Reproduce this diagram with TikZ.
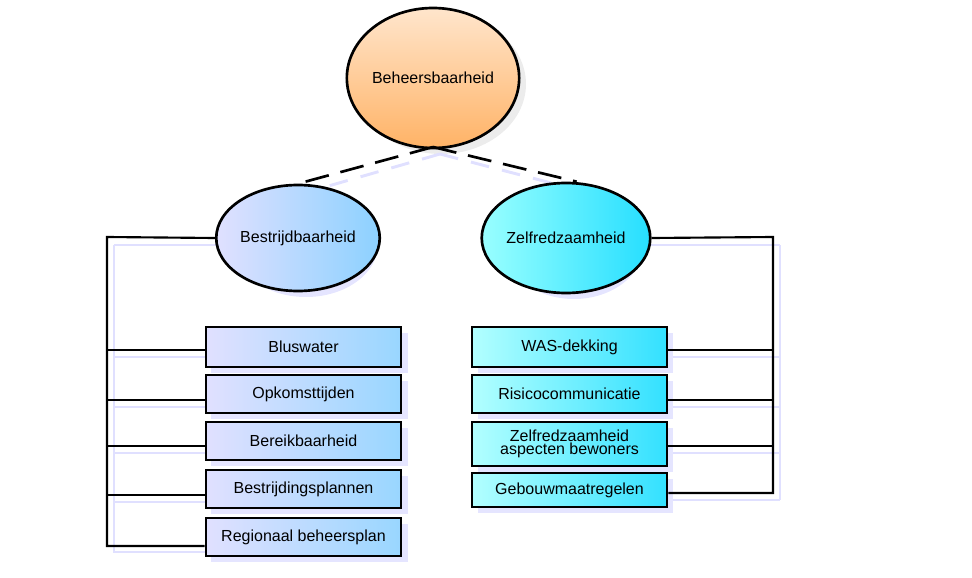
\documentclass[tikz,border=0pt]{standalone}
\usepackage{fontspec}
\setmainfont{Liberation Sans}
\usetikzlibrary{shapes.geometric}
\begin{document}
\begin{tikzpicture}[x=0.75pt,y=-0.75pt,
  line width=1.6pt,
  shad/.style={draw=blue!12,line width=2.2pt},
  circ/.style={ellipse,draw=black,line width=2pt,minimum width=#1,inner sep=0pt},
  lbox/.style={draw=black,line width=2pt,inner sep=0pt,font=\fontsize{12}{13}\selectfont,align=center},
  lb/.style={lbox,minimum width=146.25pt,left color=blue!12,right color=blue!40!cyan!40},
  rb/.style={lbox,minimum width=146.25pt,left color=cyan!30,right color=cyan!85!blue!80},
  tx/.style={font=\fontsize{12}{13}\selectfont}]
\useasboundingbox (0,0) rectangle (972,578);
% shadows
\draw[shad] (114,245) -- (114,552) -- (220,552);
\foreach \y in {357,407,453,502} \draw[shad] (114,\y) -- (210,\y);
\draw[shad] (114,245) -- (240,245);
\draw[shad] (780,245) -- (780,500);
\draw[shad] (645,245) -- (780,245);
\foreach \y in {357,407,453,500} \draw[shad] (670,\y) -- (780,\y);
\fill[blue!10] (306,244) ellipse (72 and 53);
\fill[blue!10] (574,244) ellipse (70 and 55);
\fill[gray!15] (441,84) ellipse (85 and 70);
\foreach \a/\b in {327/367,375/413,422/460,470/508,518/556} \fill[blue!10] (211,\a+6) rectangle (408,\b+6);
\foreach \a/\b in {327/367,375/413,422/466,473/507} \fill[blue!10] (478,\a+6) rectangle (673,\b+6);
\draw[shad,dash pattern=on 14pt off 10pt] (440,154) -- (318,189);
\draw[shad,dash pattern=on 14pt off 10pt] (440,154) -- (582,191);
% nodes
\node[circ=127.5pt,minimum height=105pt,top color=orange!20,bottom color=orange!60,tx] (top) at (433,78) {Beheersbaarheid};
\node[circ=108pt,minimum height=79.5pt,left color=blue!12,right color=blue!40!cyan!45,tx] (L) at (298,238) {Bestrijdbaarheid};
\node[circ=105pt,minimum height=82.5pt,left color=cyan!40,right color=cyan!85!blue!85,tx] (R) at (566,238) {Zelfredzaamheid};
\node[lb,minimum height=30pt] (b1) at (303.5,347) {Bluswater};
\node[lb,minimum height=28.5pt] (b2) at (303.5,394) {Opkomsttijden};
\node[lb,minimum height=28.5pt] (b3) at (303.5,441) {Bereikbaarheid};
\node[lb,minimum height=28.5pt] (b4) at (303.5,489) {Bestrijdingsplannen};
\node[lb,minimum height=28.5pt] (b5) at (303.5,537) {Regionaal beheersplan};
\node[rb,minimum height=30pt] (r1) at (569.5,347) {WAS-dekking};
\node[rb,minimum height=28.5pt] (r2) at (569.5,394) {Risicocommunicatie};
\node[rb,minimum height=33pt] (r3) at (569.5,444) {Zelfredzaamheid\\[-3pt]aspecten bewoners};
\node[rb,minimum height=25.5pt] (r4) at (569.5,490) {Gebouwmaatregelen};
% connectors
\coordinate (tp) at (433,147);
\draw[line width=2pt,dash pattern=on 18pt off 9pt] (tp) -- (L.north);
\draw[line width=2pt,dash pattern=on 18pt off 9pt] (tp) -- ([xshift=8pt]R.north);
\coordinate (lbus) at (107,237);
\coordinate (rbus) at (773,237);
\coordinate (l1) at (107,350);\coordinate (l2) at (107,400);\coordinate (l3) at (107,446);\coordinate (l4) at (107,495);\coordinate (l5) at (107,546);
\coordinate (q1) at (773,350);\coordinate (q2) at (773,400);\coordinate (q3) at (773,446);\coordinate (q4) at (773,493);
\draw (L.west) -- (lbus) -- (l5) -- (l5 -| b5.west);
\foreach \i in {1,...,4} \draw (l\i) -- (l\i -| b\i.west);
\draw (R.east) -- (rbus) -- (q4) -- (q4 -| r4.east);
\foreach \i in {1,...,3} \draw (q\i) -- (q\i -| r\i.east);
\end{tikzpicture}
\end{document}
